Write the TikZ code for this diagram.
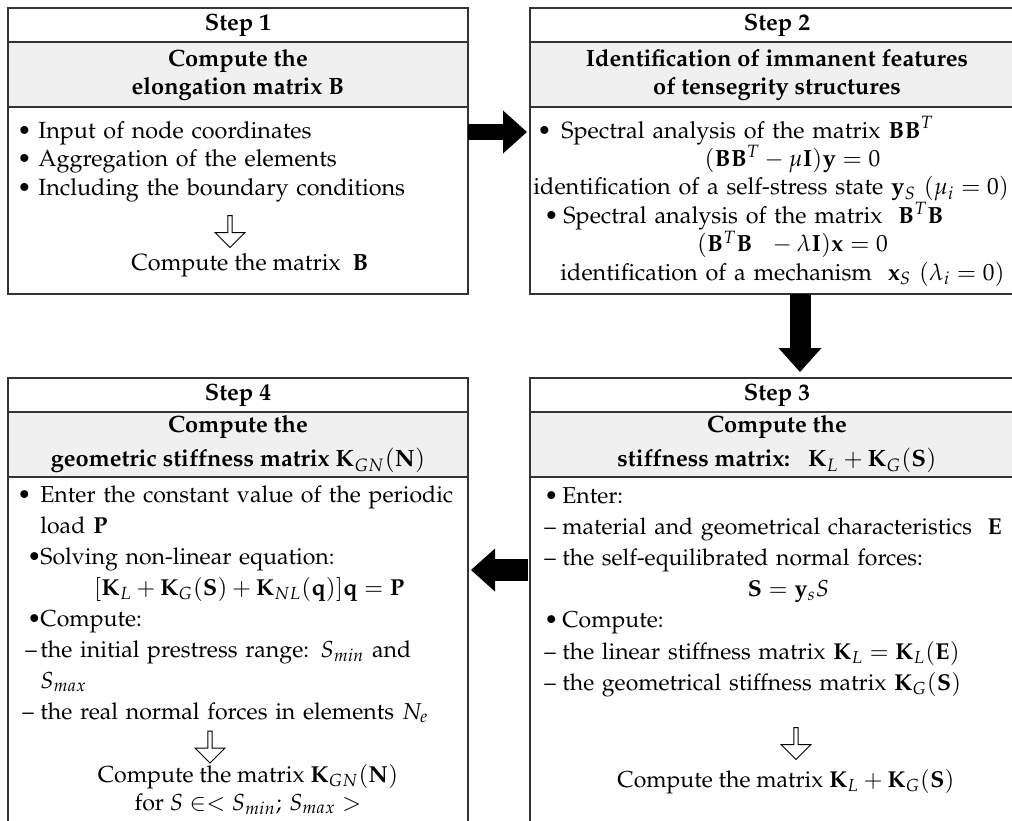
\documentclass[tikz,border=0pt]{standalone}
\usepackage{amsmath}
\usepackage[T1]{fontenc}
\usepackage{mathpazo}
\usetikzlibrary{positioning, arrows.meta, shapes.arrows}

\newcommand{\itm}[1][9pt]{\makebox[#1][l]{\textbullet}}
\newcommand{\dsh}[1][9pt]{\makebox[#1][l]{--}}
\newcommand{\eqline}[1]{\makebox[\hsize]{#1}}

\begin{document}
\begin{tikzpicture}[x=1pt, y=-1pt,
        stepline/.style={draw=black!80, line width=0.7pt, outer sep=0pt},
        steptitle/.style={stepline, anchor=north west, minimum height=17pt, inner sep=0pt, font=\fontsize{11.8}{13}\selectfont\bfseries},
        stephead/.style={stepline, fill=black!6, minimum height=32.5pt, inner sep=0pt, align=center},
        stepbody/.style={stepline, inner sep=0pt},
        steptext/.style={inner sep=0pt, align=left, anchor=base west},
        outarrow/.style={single arrow, draw=black, line width=0.5pt, shape border rotate=270, single arrow head extend=1.6pt, minimum width=15pt, minimum height=16pt, inner sep=0pt},
        blockarrow/.style={line width=#1, -{Triangle[length=12pt, width=21.5pt, line width=0pt]}}]

    \useasboundingbox (0,0) rectangle (506,410);
    \clip (0,0) rectangle (506,410);

    % Step 1
    \node[steptitle, minimum width=230pt] (t1) at (4,4) {Step 1};
    \node[stephead, minimum width=230pt, below=0pt of t1, font=\fontsize{11.8}{14}\selectfont\bfseries] (h1) {Compute the\\elongation matrix $\mathbf{B}$};
    \node[stepbody, minimum width=230pt, minimum height=93.5pt, below=0pt of h1] (b1) {};
    \node[steptext, text width=218pt, font=\fontsize{11.7}{14.25}\selectfont] (l1) at (8.5,69) {\itm[10.5pt]Input of node coordinates\\
        \itm[10.5pt]Aggregation of the elements\\
        \itm[10.5pt]Including the boundary conditions};
    \node[outarrow] (a1) at (115,115.25) {};
    \node[font=\fontsize{11.7}{14}\selectfont, inner sep=0pt, anchor=base] (r1) at (125,135) {Compute the matrix\ \ $\mathbf{B}$};

    % Step 2
    \node[steptitle, minimum width=247pt] (t2) at (265,4) {Step 2};
    \node[stephead, minimum width=247pt, below=0pt of t2, font=\fontsize{11.8}{14}\selectfont\bfseries] (h2) {Identification of immanent features\\of tensegrity structures};
    \node[stepbody, minimum width=247pt, minimum height=93.5pt, below=0pt of h2] (b2) {};
    \node[steptext, text width=259pt, font=\fontsize{11.7}{14.2}\selectfont] (l2) at (266.5,69) {\hspace*{2pt}\itm[12pt]Spectral analysis of the matrix $\mathbf{BB}^T$\\
        \eqline{$(\mathbf{BB}^T-\mu\mathbf{I})\mathbf{y}=0$}\\
        identification of a self-stress state $\mathbf{y}_S$ $(\mu_i=0)$\\
        \hspace*{5.5pt}\itm[9.5pt]Spectral analysis of the matrix\ \ $\mathbf{B}^T\mathbf{B}$\\
        \eqline{$(\mathbf{B}^T\mathbf{B}\ \ -\lambda\mathbf{I})\mathbf{x}=0$}\\
        \hspace*{13.5pt}identification of a mechanism\ \ $\mathbf{x}_S$ $(\lambda_i=0)$};

    % Step 3
    \node[steptitle, minimum width=247pt] (t3) at (265,189) {Step 3};
    \node[stephead, minimum width=247pt, below=0pt of t3, font=\fontsize{11.8}{17}\selectfont\bfseries] (h3) {Compute the\\stiffness matrix:\ \ \ $\mathbf{K}_L+\mathbf{K}_G(\mathbf{S})$};
    \node[stepbody, minimum width=247pt, minimum height=190pt, below=0pt of h3] (b3) {};
    \node[steptext, text width=244pt, font=\fontsize{11.5}{15.6}\selectfont] (l3) at (272,251.5) {\itm Enter:\\
        \dsh material and geometrical characteristics\ \ $\mathbf{E}$\\
        \dsh the self-equilibrated normal forces:\\
        \eqline{$\mathbf{S}=\mathbf{y}_sS$}\\
        \itm Compute:\\
        \dsh the linear stiffness matrix $\mathbf{K}_L=\mathbf{K}_L(\mathbf{E})$\\
        \dsh the geometrical stiffness matrix $\mathbf{K}_G(\mathbf{S})$};
    \node[outarrow] (a3) at (398,371.25) {};
    \node[font=\fontsize{11.5}{14}\selectfont, inner sep=0pt, anchor=base] (r3) at (393,393.5) {Compute the matrix $\mathbf{K}_L+\mathbf{K}_G(\mathbf{S})$};

    % Step 4
    \node[steptitle, minimum width=230pt] (t4) at (4,189) {Step 4};
    \node[stephead, minimum width=230pt, below=0pt of t4, font=\fontsize{11.8}{17}\selectfont\bfseries] (h4) {Compute the\\geometric stiffness matrix $\mathbf{K}_{GN}(\mathbf{N})$};
    \node[stepbody, minimum width=230pt, minimum height=190pt, below=0pt of h4] (b4) {};
    \node[steptext, text width=232pt, font=\fontsize{11.55}{15.5}\selectfont] (l4) at (8.5,251) {\itm[11.5pt]Enter the constant value of the periodic\\
        \hspace*{11.5pt}load $\mathbf{P}$\\
        \hspace*{5pt}\itm[6.5pt]Solving non-linear equation:\\
        \eqline{$[\mathbf{K}_L+\mathbf{K}_G(\mathbf{S})+\mathbf{K}_{NL}(\mathbf{q})]\mathbf{q}=\mathbf{P}$}\\
        \hspace*{5pt}\itm[6.5pt]Compute:\\
        \hspace*{4pt}\dsh[7.5pt]the initial prestress range: $S_{min}$ and\\
        \hspace*{11.5pt}$S_{max}$\\
        \hspace*{2.5pt}\dsh the real normal forces in elements $N_e$};
    \node[outarrow] (a4) at (105,373) {};
    \node[font=\fontsize{11.55}{14}\selectfont, inner sep=0pt, anchor=base, align=center] (r4) at (124,405) {Compute the matrix $\mathbf{K}_{GN}(\mathbf{N})$\\for $S\in<S_{min};\,S_{max}>$};

    % flow between the steps
    \draw[blockarrow=8pt] ([yshift=-12.5pt]b1.north east) -- ([xshift=-1.5pt, yshift=-12.5pt]b2.north west);
    \draw[blockarrow=10.5pt] ([xshift=11.5pt]b2.south) -- ([xshift=11.5pt, yshift=3pt]t3.north);
    \draw[blockarrow=11pt] ([xshift=-1pt, yshift=-46.5pt]b3.north west) -- ([xshift=1.5pt, yshift=-46.5pt]b4.north east);
\end{tikzpicture}
\end{document}
